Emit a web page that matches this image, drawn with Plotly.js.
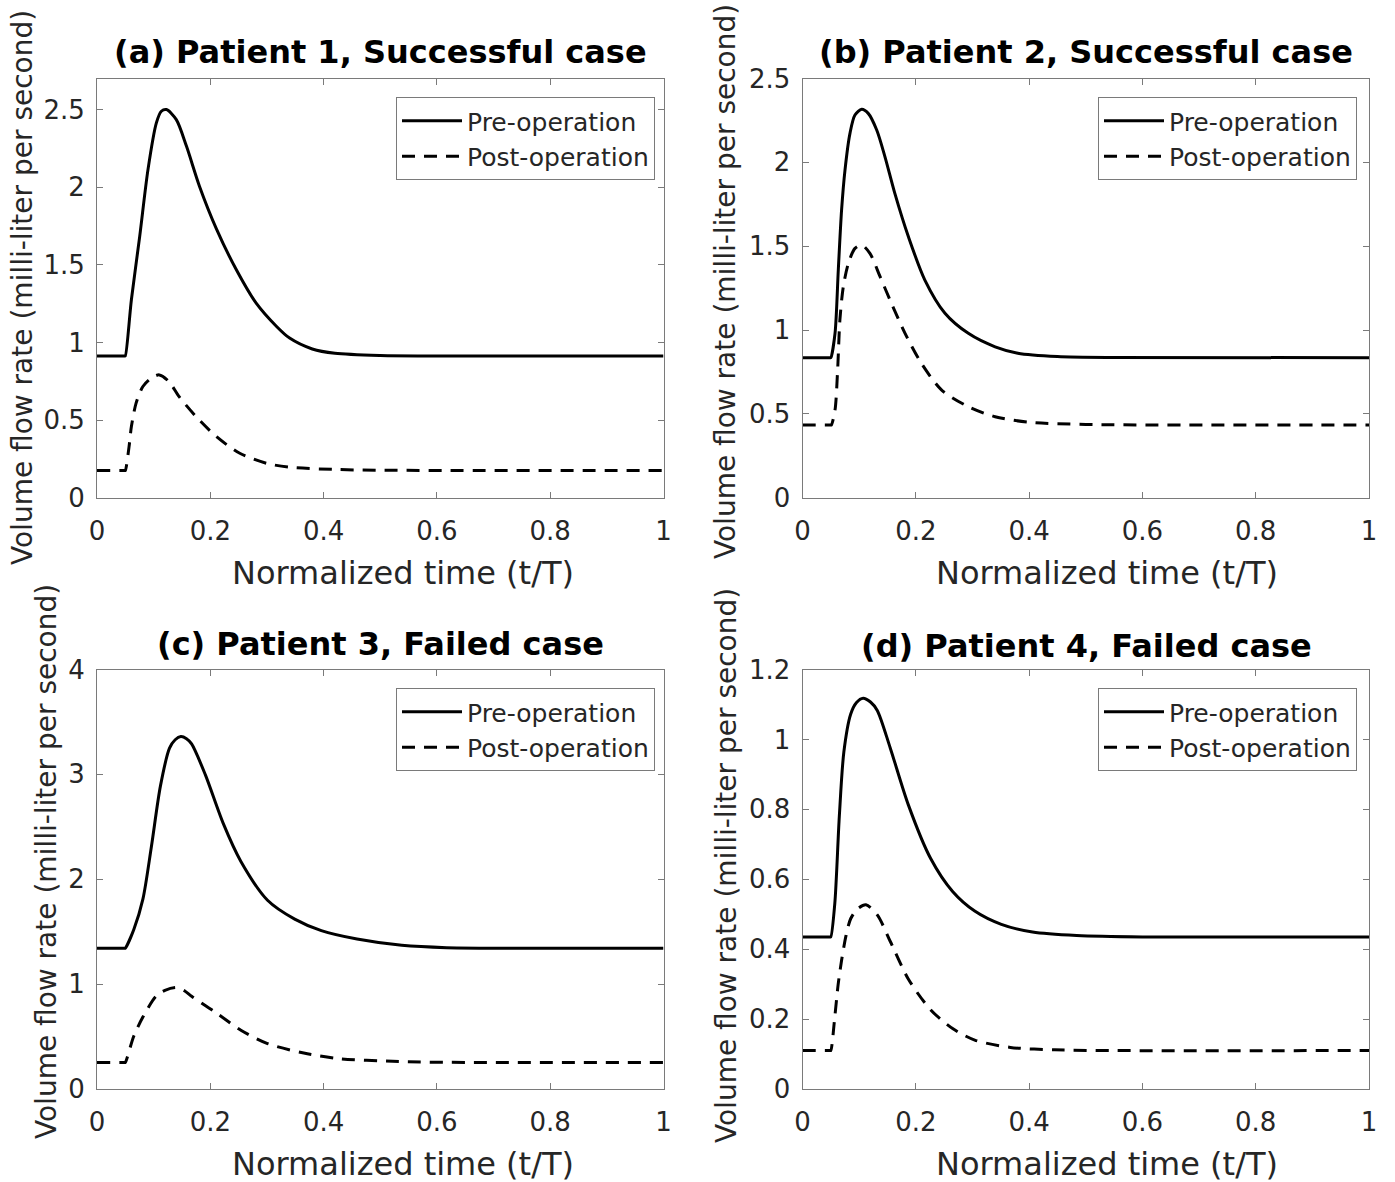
<!DOCTYPE html>
<html><head><meta charset="utf-8">
<script src="https://cdn.plot.ly/plotly-3.0.1.min.js"></script>
<style>html,body{margin:0;padding:0;background:#fff}</style>
</head><body><div id="chart" style="width:1395px;height:1182px"></div>
<script>
// ---- data ----
const panelTitles = ["(a) Patient 1, Successful case", "(b) Patient 2, Successful case", "(c) Patient 3, Failed case", "(d) Patient 4, Failed case"];
const seriesNames = ["Pre-operation", "Post-operation"];
const xTitle = "Normalized time (t/T)";
const yTitle = "Volume flow rate (milli-liter per second)";

const timeA_pre = [0, 0.049, 0.05, 0.0607, 0.0754, 0.090, 0.1048, 0.1136, 0.1225, 0.140, 0.158, 0.181, 0.211, 0.246, 0.281, 0.317, 0.340, 0.38, 0.42, 0.5, 0.6, 1];
const flowA_pre = [0.913, 0.913, 0.913, 1.275, 1.683, 2.113, 2.414, 2.489, 2.50, 2.435, 2.263, 2.005, 1.73, 1.468, 1.253, 1.103, 1.028, 0.958, 0.93, 0.916, 0.913, 0.913];
const timeA_post = [0, 0.049, 0.05, 0.0566, 0.0607, 0.069, 0.081, 0.0959, 0.110, 0.127, 0.145, 0.175, 0.211, 0.252, 0.299, 0.340, 0.42, 0.5, 1];
const flowA_post = [0.175, 0.175, 0.175, 0.329, 0.458, 0.609, 0.716, 0.77, 0.791, 0.748, 0.651, 0.522, 0.393, 0.286, 0.222, 0.196, 0.182, 0.177, 0.175];

const timeB_pre = [0, 0.049, 0.05, 0.0574, 0.0632, 0.069, 0.075, 0.0838, 0.0926, 0.1045, 0.116, 0.131, 0.1456, 0.163, 0.187, 0.216, 0.2515, 0.2927, 0.34, 0.38, 0.45, 0.55, 1];
const flowB_pre = [0.835, 0.835, 0.835, 0.98, 1.358, 1.716, 1.954, 2.173, 2.282, 2.316, 2.292, 2.193, 2.033, 1.815, 1.556, 1.298, 1.10, 0.98, 0.90, 0.862, 0.842, 0.836, 0.835];
const timeB_post = [0, 0.05, 0.051, 0.0574, 0.062, 0.066, 0.072, 0.081, 0.0926, 0.1045, 0.119, 0.137, 0.157, 0.181, 0.210, 0.2457, 0.2927, 0.34, 0.40, 0.5, 1];
const flowB_post = [0.434, 0.434, 0.434, 0.523, 0.761, 1.06, 1.258, 1.398, 1.487, 1.507, 1.457, 1.318, 1.159, 0.98, 0.801, 0.642, 0.543, 0.483, 0.45, 0.437, 0.434];

const timeC_pre = [0, 0.049, 0.05, 0.065, 0.081, 0.096, 0.112, 0.128, 0.138, 0.148, 0.158, 0.167, 0.191, 0.223, 0.254, 0.301, 0.349, 0.396, 0.459, 0.538, 0.617, 1];
const flowC_pre = [1.343, 1.343, 1.343, 1.52, 1.81, 2.31, 2.89, 3.25, 3.33, 3.36, 3.34, 3.29, 3.0, 2.53, 2.17, 1.80, 1.62, 1.51, 1.43, 1.37, 1.348, 1.343];
const timeC_post = [0, 0.049, 0.05, 0.065, 0.081, 0.104, 0.12, 0.14, 0.155, 0.167, 0.207, 0.254, 0.301, 0.365, 0.428, 0.522, 0.6, 1];
const flowC_post = [0.253, 0.253, 0.253, 0.505, 0.686, 0.884, 0.94, 0.967, 0.935, 0.884, 0.74, 0.56, 0.433, 0.343, 0.289, 0.264, 0.255, 0.253];

const timeD_pre = [0, 0.049, 0.05, 0.057, 0.065, 0.073, 0.085, 0.095, 0.107, 0.12, 0.132, 0.155, 0.187, 0.226, 0.265, 0.304, 0.351, 0.406, 0.484, 0.6, 1];
const flowD_pre = [0.435, 0.435, 0.435, 0.53, 0.78, 0.964, 1.072, 1.105, 1.118, 1.107, 1.083, 0.975, 0.812, 0.66, 0.565, 0.509, 0.471, 0.449, 0.439, 0.435, 0.435];
const timeD_post = [0, 0.049, 0.05, 0.057, 0.063, 0.069, 0.077, 0.085, 0.097, 0.112, 0.132, 0.155, 0.187, 0.226, 0.265, 0.304, 0.367, 0.445, 0.55, 1];
const flowD_post = [0.11, 0.11, 0.11, 0.206, 0.3, 0.368, 0.44, 0.487, 0.515, 0.527, 0.498, 0.422, 0.314, 0.227, 0.173, 0.14, 0.119, 0.112, 0.11, 0.11];

const yRanges = [[0, 2.7], [0, 2.5], [0, 4], [0, 1.2]];
const yDticks = [0.5, 0.5, 1, 0.2];

// ---- layout helpers ----
const W = 1395, H = 1182;
const px = x => x / W, py = y => 1 - y / H;
const FONT = "DejaVu Sans";
const TXT = "#262626";
const BOX = "#7a7a7a";

const pre = [[timeA_pre, flowA_pre], [timeB_pre, flowB_pre], [timeC_pre, flowC_pre], [timeD_pre, flowD_pre]];
const post = [[timeA_post, flowA_post], [timeB_post, flowB_post], [timeC_post, flowC_post], [timeD_post, flowD_post]];

const geom = [
  {xd: [97, 663.5], yd: [78.5, 497.7], title: [380, 52], xlab: [403, 573], ylab: [22, 288], leg: [655, 97]},
  {xd: [802.5, 1369], yd: [78.5, 497.7], title: [1086, 52], xlab: [1107, 573], ylab: [726, 282], leg: [1357, 97]},
  {xd: [97, 663.5], yd: [669.5, 1089], title: [380, 644], xlab: [403, 1164], ylab: [46, 862], leg: [655, 688]},
  {xd: [802.5, 1369], yd: [669.5, 1089], title: [1086, 646], xlab: [1107, 1164], ylab: [726, 866], leg: [1357, 688]}
];

const data = [];
const layout = {
  width: W, height: H,
  margin: {l: 0, r: 0, t: 0, b: 0},
  paper_bgcolor: "#fff", plot_bgcolor: "#fff",
  font: {family: FONT, color: TXT},
  annotations: []
};

for (let i = 0; i < 4; i++) {
  const n = i === 0 ? "" : String(i + 1);
  const g = geom[i];
  const legName = "legend" + n;
  data.push({
    x: pre[i][0], y: pre[i][1], xaxis: "x" + n, yaxis: "y" + n,
    type: "scatter", mode: "lines", name: seriesNames[0], legend: legName,
    line: {color: "#000", width: 3, shape: "spline", smoothing: 0.8}
  });
  data.push({
    x: post[i][0], y: post[i][1], xaxis: "x" + n, yaxis: "y" + n,
    type: "scatter", mode: "lines", name: seriesNames[1], legend: legName,
    line: {color: "#000", width: 3, dash: "13px,9px", shape: "spline", smoothing: 0.8}
  });
  const common = {
    showline: true, linecolor: BOX, linewidth: 1, mirror: "ticks",
    ticks: "inside", ticklen: 6, tickcolor: BOX, tickwidth: 1,
    showgrid: false, zeroline: false, fixedrange: true,
    tickfont: {family: FONT, size: 26, color: TXT}
  };
  layout["xaxis" + n] = Object.assign({}, common, {
    domain: [px(g.xd[0]), px(g.xd[1])], range: [0, 1], dtick: 0.2, tick0: 0,
    anchor: "y" + n, ticklabelstandoff: 10
  });
  layout["yaxis" + n] = Object.assign({}, common, {
    domain: [py(g.yd[1]), py(g.yd[0])], range: yRanges[i], dtick: yDticks[i], tick0: 0,
    anchor: "x" + n, ticklabelstandoff: 6
  });
  layout[legName] = {
    x: px(g.leg[0]), y: py(g.leg[1]), xanchor: "right", yanchor: "top",
    bgcolor: "#fff", bordercolor: BOX, borderwidth: 1,
    font: {family: FONT, size: 25, color: TXT}, itemwidth: 60, tracegroupgap: 0
  };
  layout.annotations.push({
    text: "<b>" + panelTitles[i] + "</b>", xref: "paper", yref: "paper",
    x: px(g.title[0]), y: py(g.title[1]), xanchor: "center", yanchor: "middle",
    showarrow: false, font: {family: FONT, size: 32, color: "#000"}
  });
  layout.annotations.push({
    text: xTitle, xref: "paper", yref: "paper",
    x: px(g.xlab[0]), y: py(g.xlab[1]), xanchor: "center", yanchor: "middle",
    showarrow: false, font: {family: FONT, size: 32, color: TXT}
  });
  layout.annotations.push({
    text: yTitle, xref: "paper", yref: "paper", textangle: -90,
    x: px(g.ylab[0]), y: py(g.ylab[1]), xanchor: "center", yanchor: "middle",
    showarrow: false, font: {family: FONT, size: 28, color: TXT}
  });
}

Plotly.newPlot("chart", data, layout, {staticPlot: true, displayModeBar: false});
</script>
</body></html>
